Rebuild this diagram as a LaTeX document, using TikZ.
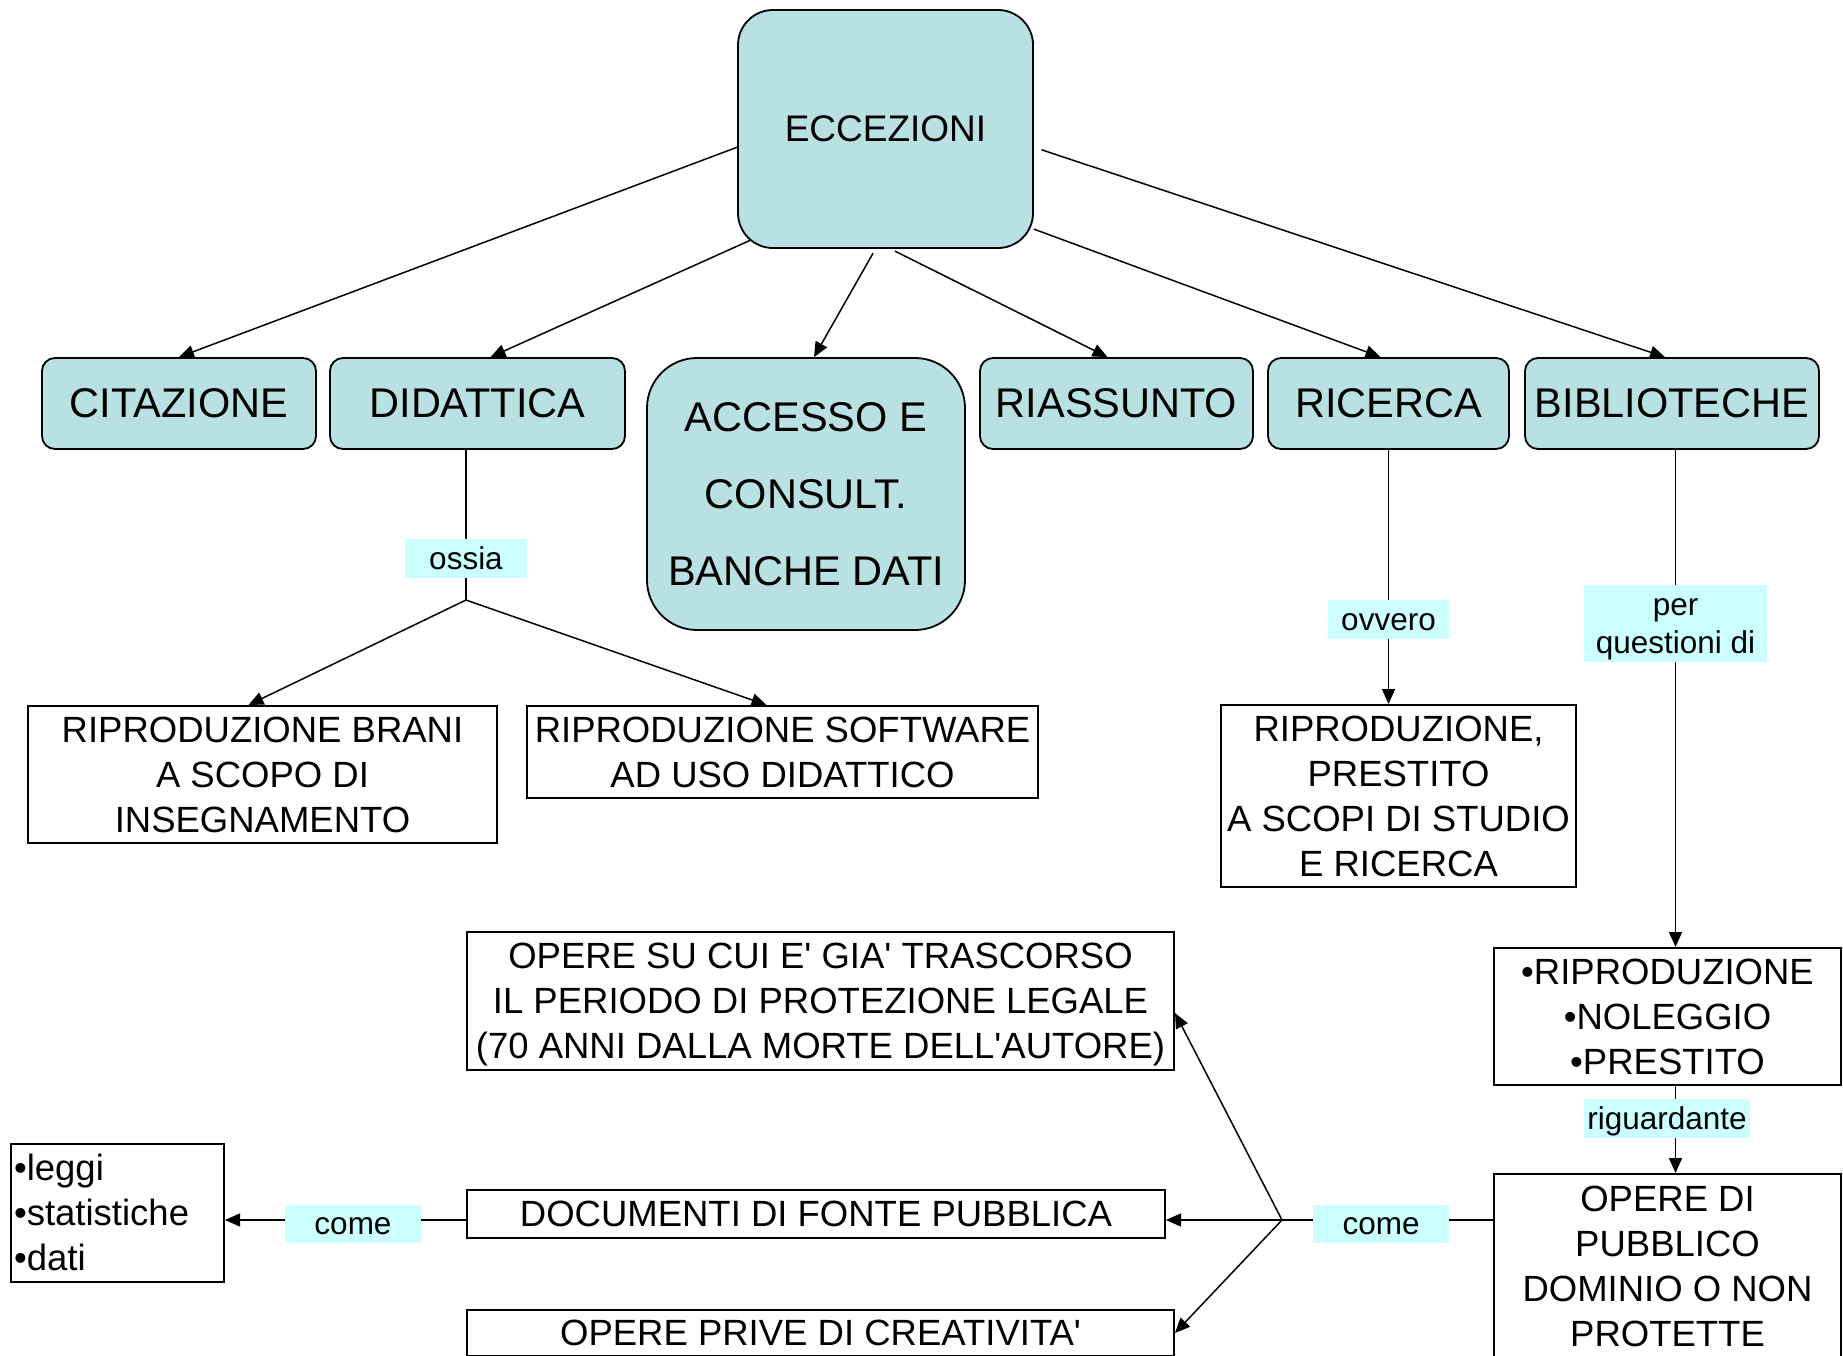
\documentclass[tikz,border=0pt]{standalone}
\usepackage{fontspec}
\setmainfont{Liberation Sans}
\usetikzlibrary{arrows.meta}

\definecolor{topicfill}{RGB}{185,224,227}
\definecolor{wordfill}{RGB}{204,255,255}
\newcommand{\apo}{\textquotesingle}
% line strut (ascent + descent of the font)
\newcommand{\sr}{\rule[-0.212em]{0pt}{1.117em}}

\tikzset{
  topic/.style={draw, line width=1.8pt, fill=topicfill, rounded corners=13pt,
    inner sep=0pt, align=center, font=\fontsize{41.5}{77}\selectfont},
  detail/.style={draw, line width=2pt, fill=white, inner sep=0pt,
    align=center, font=\fontsize{36.5}{45}\selectfont},
  linkword/.style={fill=wordfill, inner sep=0pt, align=center,
    font=\fontsize{31.5}{38}\selectfont},
  link/.style={line width=1.5pt},
  arr/.style={link, -{Triangle[length=15pt,width=13pt]}}
}

\begin{document}
\begin{tikzpicture}[x=1pt,y=-1pt]
  \useasboundingbox (0,0) rectangle (1843,1355);

  % Main concept and first row
  \node[topic, minimum width=295pt, minimum height=238pt, rounded corners=35pt,
        font=\fontsize{37}{44}\selectfont] (ecc) at (885.5,129) {\sr ECCEZIONI};
  \node[topic, minimum width=274pt, minimum height=91pt] (cit) at (179,403.5) {\sr CITAZIONE};
  \node[topic, minimum width=295pt, minimum height=91pt] (did) at (477.5,403.5) {\sr DIDATTICA};
  \node[topic, minimum width=318pt, minimum height=272pt, rounded corners=50pt]
        (acc) at (806,494) {\sr ACCESSO E\\CONSULT.\\\sr BANCHE DATI};
  \node[topic, minimum width=273pt, minimum height=91pt] (ria) at (1116.5,403.5) {\sr RIASSUNTO};
  \node[topic, minimum width=241pt, minimum height=91pt] (ric) at (1388.5,403.5) {\sr RICERCA};
  \node[topic, minimum width=294pt, minimum height=91pt] (bib) at (1672,403.5) {\sr BIBLIOTECHE};

  % Linking words
  \node[linkword, minimum width=122pt, minimum height=39pt] (ossia) at (466,558.5) {\sr ossia};
  \node[linkword, minimum width=121pt, minimum height=39pt] (ovv) at (1388.5,619.5) {\sr ovvero};
  \node[linkword, minimum width=183pt, minimum height=77pt] (perq) at (1675.5,623.5) {\sr per\\\sr questioni di};
  \node[linkword, minimum width=166pt, minimum height=39pt] (rig) at (1667,1118.5) {\sr riguardante};
  \node[linkword, minimum width=136pt, minimum height=38pt] (comeA) at (1381,1224) {\sr come};
  \node[linkword, minimum width=136pt, minimum height=38pt] (comeB) at (353,1224) {\sr come};

  % Detail boxes
  \node[detail, minimum width=469pt, minimum height=137pt] (brani) at (262.5,774.5)
        {\sr RIPRODUZIONE BRANI\\A SCOPO DI\\\sr INSEGNAMENTO};
  \node[detail, minimum width=511pt, minimum height=92pt] (soft) at (782.5,752)
        {\sr RIPRODUZIONE SOFTWARE\\\sr AD USO DIDATTICO};
  \node[detail, minimum width=355pt, minimum height=182pt] (studio) at (1398.5,796)
        {\sr RIPRODUZIONE,\\PRESTITO\\A SCOPI DI STUDIO\\\sr E RICERCA};
  \node[detail, minimum width=347pt, minimum height=137pt] (usi) at (1667.5,1016.5)
        {\sr •RIPRODUZIONE\\•NOLEGGIO\\\sr •PRESTITO};
  \node[detail, minimum width=347pt, minimum height=184pt] (pubdom) at (1667.5,1266)
        {\sr OPERE DI\\PUBBLICO\\DOMINIO O NON\\\sr PROTETTE};
  \node[detail, minimum width=707pt, minimum height=138pt] (scaduti) at (820.5,1001)
        {\sr OPERE SU CUI E\apo{} GIA\apo{} TRASCORSO\\IL PERIODO DI PROTEZIONE LEGALE\\\sr (70 ANNI DALLA MORTE DELL\apo AUTORE)};
  \node[detail, minimum width=698pt, minimum height=48pt] (docum) at (816,1214)
        {\sr DOCUMENTI DI FONTE PUBBLICA};
  \node[detail, minimum width=707pt, minimum height=46pt] (prive) at (820.5,1333)
        {\sr OPERE PRIVE DI CREATIVITA\apo};
  \node[detail, align=left, text width=207pt, inner xsep=3pt, minimum height=138pt]
        (leggi) at (117.5,1213) {\sr •leggi\\•statistiche\\\sr •dati};

  % Arrows from ECCEZIONI
  \draw[arr] (ecc.187) -- (cit.north);
  \draw[arr] ([shift={(14pt,9pt)}]ecc.south west) -- ([xshift=13pt]did.north);
  \draw[arr, shorten <=5pt] ([xshift=-10pt]ecc.south) -- ([xshift=8pt]acc.north);
  \draw[arr, shorten <=5pt] ([xshift=5pt]ecc.south) -- ([xshift=-9pt]ria.north);
  \draw[arr] (ecc.-34) -- ([xshift=-8pt]ric.north);
  \draw[arr, shorten <=8pt] (ecc.-7) -- ([xshift=-7pt]bib.north);

  % DIDATTICA branch
  \coordinate (jdid) at (466,600);
  \draw[link] (ossia |- did.south) -- (ossia.north);
  \draw[link] (ossia.south) -- (jdid);
  \draw[arr] (jdid) -- ([xshift=-14pt]brani.north);
  \draw[arr] (jdid) -- ([xshift=-16pt]soft.north);

  % RICERCA branch
  \draw[link] (ric.south) -- (ovv.north);
  \draw[arr] (ovv.south) -- (ovv.south |- studio.north);

  % BIBLIOTECHE branch
  \draw[link] (perq |- bib.south) -- (perq.north);
  \draw[arr] (perq.south) -- (perq.south |- usi.north);
  \draw[link] (perq |- usi.south) -- (perq |- rig.north);
  \draw[arr] (perq |- rig.south) -- (perq |- pubdom.north);

  % Public domain examples
  \coordinate (jcome) at (1282,1220);
  \draw[link] (pubdom.west |- jcome) -- (comeA.east |- jcome);
  \draw[link] (comeA.west |- jcome) -- (jcome);
  \draw[arr] (jcome) -- ([yshift=-12pt]scaduti.east);
  \draw[arr] (jcome) -- (docum.east |- jcome);
  \draw[arr] (jcome) -- (prive.east);
  \draw[link] (docum.west |- jcome) -- (comeB.east |- jcome);
  \draw[arr] (comeB.west |- jcome) -- (leggi.east |- jcome);
\end{tikzpicture}
\end{document}
